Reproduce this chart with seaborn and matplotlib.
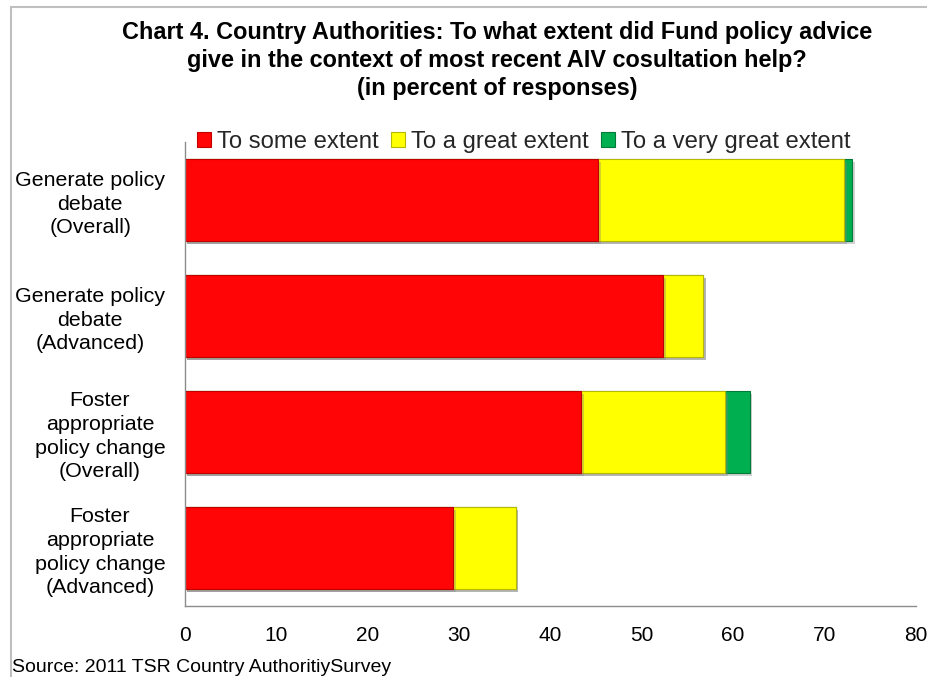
import numpy as np
import pandas as pd
import matplotlib
matplotlib.use("Agg")
import matplotlib.pyplot as plt
import matplotlib.patheffects as pe
from matplotlib.patches import Rectangle, Patch
import seaborn as sns

# Survey results (percent of responses)
categories = [
    "Generate policy\ndebate\n(Overall)",
    "Generate policy\ndebate\n(Advanced)",
    "Foster\nappropriate\npolicy change\n(Overall)",
    "Foster\nappropriate\npolicy change\n(Advanced)",
]
some_extent = [45.2, 52.3, 43.4, 29.4]
great_extent = [26.9, 4.4, 15.7, 6.8]
very_great_extent = [0.9, 0.0, 2.7, 0.0]
series_names = ["To some extent", "To a great extent", "To a very great extent"]
series_colors = ["#FF0505", "#FFFF00", "#00B050"]
edge_colors = ["#C00000", "#B8B800", "#007A38"]
x_ticks = [0, 10, 20, 30, 40, 50, 60, 70, 80]

title = ("Chart 4. Country Authorities: To what extent did Fund policy advice\n"
         "give in the context of most recent AIV cosultation help?\n"
         "(in percent of responses)")
source = "Source: 2011 TSR Country AuthoritiySurvey"

sns.set_style("white")
plt.rcParams["font.family"] = ["Liberation Sans", "DejaVu Sans"]

W, H = 927, 677
fig = plt.figure(figsize=(W / 100, H / 100), dpi=100)
fig.patch.set_facecolor("white")

def fx(px):
    return px / W

def fy(py):
    return 1 - py / H

ax_left, ax_right, ax_top, ax_bottom = 184.7, 916.0, 142.0, 606.0
ax = fig.add_axes([fx(ax_left), fy(ax_bottom), fx(ax_right - ax_left),
                   (ax_bottom - ax_top) / H])

df = pd.DataFrame({
    "category": categories,
    "some": some_extent,
    "great": great_extent,
    "very": very_great_extent,
})
# Stacked bars drawn as overlapping cumulative totals, widest first
cum = np.cumsum(df[["some", "great", "very"]].to_numpy(), axis=1)
shadow = [pe.SimplePatchShadow(offset=(2, -2), shadow_rgbFace="#808080", alpha=0.35),
          pe.Normal()]
for k in (2, 1, 0):
    sns.barplot(x=cum[:, k], y=df["category"], orient="h", ax=ax,
                color=series_colors[k], width=0.71, saturation=1,
                edgecolor=edge_colors[k], linewidth=0.8)
for p in ax.patches:
    p.set_path_effects(shadow)

ax.set_xlim(0, 80)
ax.set_ylim(3.5, -0.5)
ax.set_xticks(x_ticks)
ax.set_xticklabels([str(v) for v in x_ticks])
ax.set_xlabel("")
ax.set_ylabel("")

for s in ("top", "right"):
    ax.spines[s].set_visible(False)
for s in ("left", "bottom"):
    ax.spines[s].set_color("#8C8C8C")
    ax.spines[s].set_linewidth(1.0)

ax.tick_params(axis="x", direction="out", length=5.5, width=1.0,
               color="#8C8C8C", labelsize=15, pad=9, labelcolor="black")
ax.tick_params(axis="y", which="major", length=0, labelsize=15.4, pad=14,
               labelcolor="black")
ax.set_yticks([-0.5, 0.5, 1.5, 2.5, 3.5], minor=True)
ax.tick_params(axis="y", which="minor", direction="in", length=5.5, width=1.0,
               color="#8C8C8C")
for lab in ax.get_yticklabels():
    lab.set_multialignment("center")
    lab.set_linespacing(1.3)

handles = [Patch(facecolor=c, edgecolor=e, linewidth=0.8)
           for c, e in zip(series_colors, edge_colors)]
fig.legend(handles, series_names, loc="center left",
           bbox_to_anchor=(fx(197), fy(142)), ncol=3, frameon=False,
           fontsize=17.2, handlelength=0.58, handleheight=0.58,
           handletextpad=0.25, columnspacing=0.53, borderpad=0,
           borderaxespad=0)

fig.text(fx(497), fy(60.5), title, ha="center", va="center", fontsize=16.9,
         fontweight="bold", linespacing=1.30, color="black")
fig.text(fx(12), fy(668), source, ha="left", va="center", fontsize=14,
         color="black")

# Chart area border
fig.patches.append(Rectangle((fx(11), -0.05), 1.2, fy(7) + 0.05,
                             transform=fig.transFigure, fill=False,
                             edgecolor="#BFBFBF", linewidth=1.5, zorder=0))

fig.savefig("out.png", dpi=100)
